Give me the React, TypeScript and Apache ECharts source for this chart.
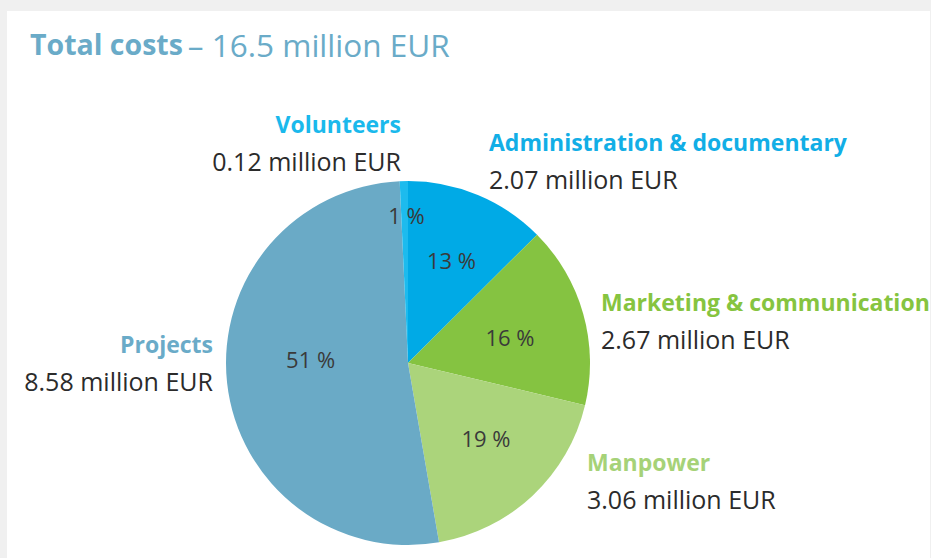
import React, { useEffect, useRef } from "react";
import * as echarts from "echarts";

const categories = ["Administration & documentary", "Marketing & communication", "Manpower", "Projects", "Volunteers"];
const values = [2.07, 2.67, 3.06, 8.58, 0.12];
const percentLabels = ["13", "16", "19", "51", "1"];
const sliceColors = ["#00aae6", "#85c341", "#abd47b", "#6aaac6", "#1dbbee"];
const nameColors = ["#12aee6", "#86c440", "#a6d278", "#6aabc8", "#1ab9ec"];
const totalLabel = "16.5 million EUR";

// label layout (style only)
const outsideLabelPos = [
  { x: 489, y: 160, align: "left" },
  { x: 601, y: 320, align: "left" },
  { x: 587, y: 480, align: "left" },
  { x: 213, y: 362, align: "right" },
  { x: 401, y: 142, align: "right" },
];
const pctOffsets = [
  [2, -3],
  [-2, 3],
  [4, -4],
  [10, -16],
  [1, -40],
];

const FONT = "'Open Sans', 'Noto Sans', sans-serif";

export default function App() {
  const ref = useRef<HTMLDivElement>(null);
  useEffect(() => {
    if (!ref.current) return;
    const chart = echarts.init(ref.current, null, { renderer: "svg" });
    const data = categories.map((c, i) => ({ name: c, value: values[i], itemStyle: { color: sliceColors[i] } }));
    chart.setOption({
      animation: false,
      backgroundColor: "#f0f0f0",
      graphic: [
        { type: "rect", left: 7, top: 11, shape: { width: 923, height: 560 }, style: { fill: "#ffffff" }, z: -10, silent: true },
      ],
      title: {
        text: "{b|Total costs} {r|– " + totalLabel + "}",
        left: 30,
        top: 28,
        padding: 0,
        textStyle: {
          rich: {
            b: { fontFamily: FONT, fontWeight: "bold", fontSize: 28.5, color: "#6aabc8" },
            r: { fontFamily: FONT, fontWeight: "normal", fontSize: 31.5, color: "#6aabc8" },
          },
        },
      },
      series: [
        {
          type: "pie",
          center: [408, 363],
          radius: 182,
          startAngle: 90,
          clockwise: true,
          silent: true,
          data: data.map((d, i) => ({
            ...d,
            label: {
              formatter: () => "{n|" + categories[i] + "}\n{v|" + values[i].toFixed(2) + " million EUR}",
              rich: {
                n: { fontFamily: FONT, fontWeight: "bold", fontSize: 23, color: nameColors[i], lineHeight: 37, align: outsideLabelPos[i].align },
                v: { fontFamily: FONT, fontSize: 25, color: "#2b2b2b", lineHeight: 37, align: outsideLabelPos[i].align },
              },
            },
          })),
          label: { show: true, position: "outside", overflow: "none", width: 600 },
          labelLine: { show: false },
          labelLayout: (p: any) => {
            const pos = outsideLabelPos[p.dataIndex];
            return { x: pos.x, y: pos.y, align: pos.align, verticalAlign: "middle" };
          },
        },
        {
          type: "pie",
          center: [408, 363],
          radius: [0, 210],
          startAngle: 90,
          clockwise: true,
          silent: true,
          z: 5,
          itemStyle: { color: "rgba(0,0,0,0)" },
          data: categories.map((c, i) => ({ name: c, value: values[i] })),
          label: {
            show: true,
            position: "inside",
            formatter: (p: any) => percentLabels[p.dataIndex] + " %",
            fontFamily: FONT,
            fontSize: 22,
            color: "#3a3a3a",
          },
          labelLine: { show: false },
          labelLayout: (p: any) => ({ dx: pctOffsets[p.dataIndex][0], dy: pctOffsets[p.dataIndex][1] }),
        },
      ],
    });
    return () => chart.dispose();
  }, []);
  return <div ref={ref} style={{ position: "fixed", left: 0, top: 0, width: 931, height: 558 }} />;
}
